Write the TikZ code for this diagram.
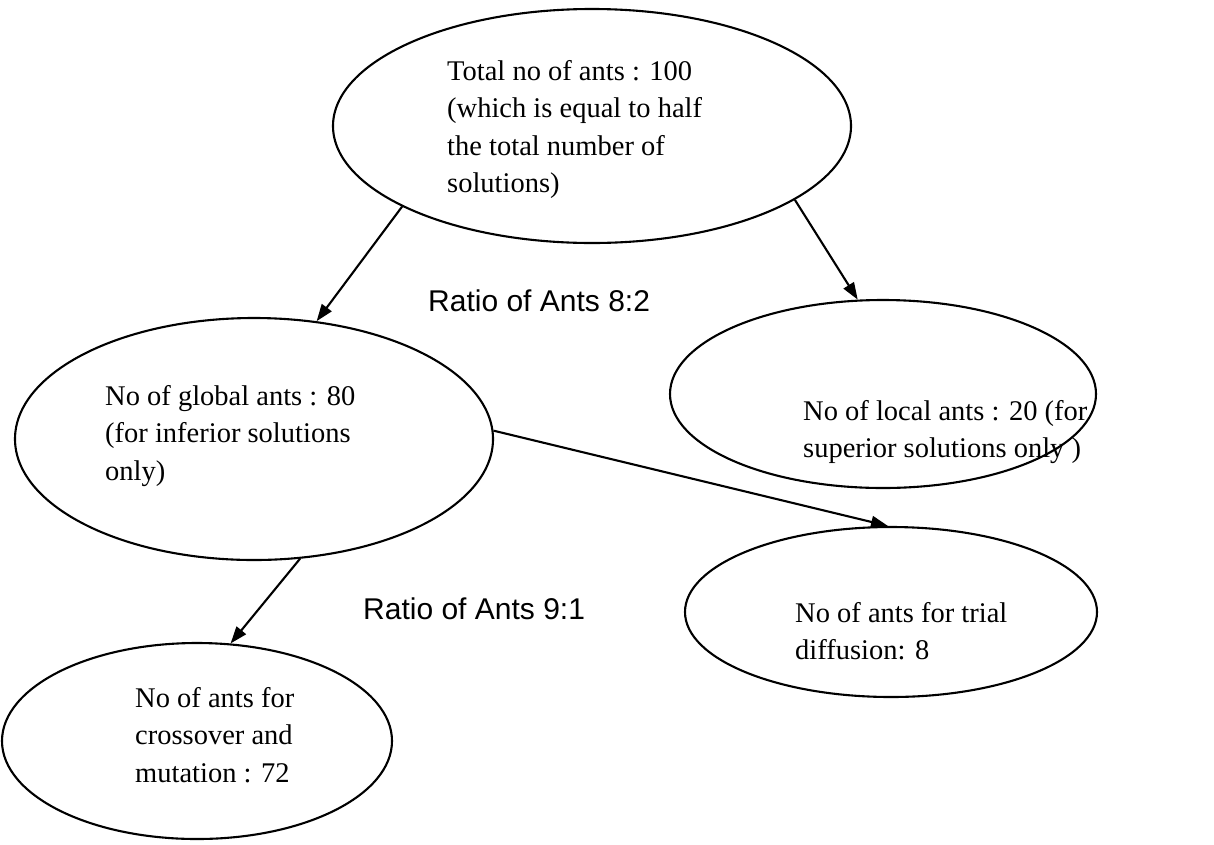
\documentclass[tikz,border=0pt]{standalone}
\usepackage{fontspec}
\setmainfont{Liberation Serif}
\newfontfamily\arialfont{Liberation Sans}
\usetikzlibrary{shapes.geometric,arrows.meta}
\begin{document}
\begin{tikzpicture}[x=1pt,y=-1pt,
  oval/.style={draw, ellipse, line width=2.1pt, inner sep=0pt},
  body/.style={anchor=base west, align=left, inner sep=0pt, font=\fontsize{28.5}{37.5}\selectfont},
  ratio/.style={anchor=base west, inner sep=0pt, font=\arialfont\fontsize{30}{36}\selectfont},
  link/.style={line width=2.1pt, -{Triangle[length=17pt,width=12pt]}},
]
\useasboundingbox[fill=white] (0,0) rectangle (1214,844);
\node[oval, minimum width=518pt, minimum height=234pt] (top) at (592,126) {};
\node[oval, minimum width=478pt, minimum height=242pt] (gl) at (254,439) {};
\node[oval, minimum width=426pt, minimum height=188pt] (loc) at (883,394) {};
\node[oval, minimum width=390pt, minimum height=196pt] (cm) at (197,741) {};
\node[oval, minimum width=412pt, minimum height=170pt] (td) at (891,612) {};

\node[body] (ttop) at (447,192.5) {Total no of ants : 100\\(which is equal to half\\the total number of\\solutions)};
\node[body] (tgl) at (105,480) {No of global ants : 80\\(for inferior solutions\\only)};
\node[body] (tloc) at (803,457.5) {No of local ants : 20 (for\\superior solutions only )};
\node[body] (tcm) at (135,782) {No of ants for\\crossover and\\mutation : 72};
\node[body] (ttd) at (795,659.5) {No of ants for trial\\diffusion: 8};

\node[ratio] (r1) at (428,311) {Ratio of Ants 8:2};
\node[ratio] (r2) at (363,619) {Ratio of Ants 9:1};

\draw[link] (top.203) -- (gl.62);
\draw[link] (top.-20) -- (loc.105);
\draw[link] (gl.2) -- (td.92);
\draw[link] (gl.-69) -- (cm.71);
\end{tikzpicture}
\end{document}
